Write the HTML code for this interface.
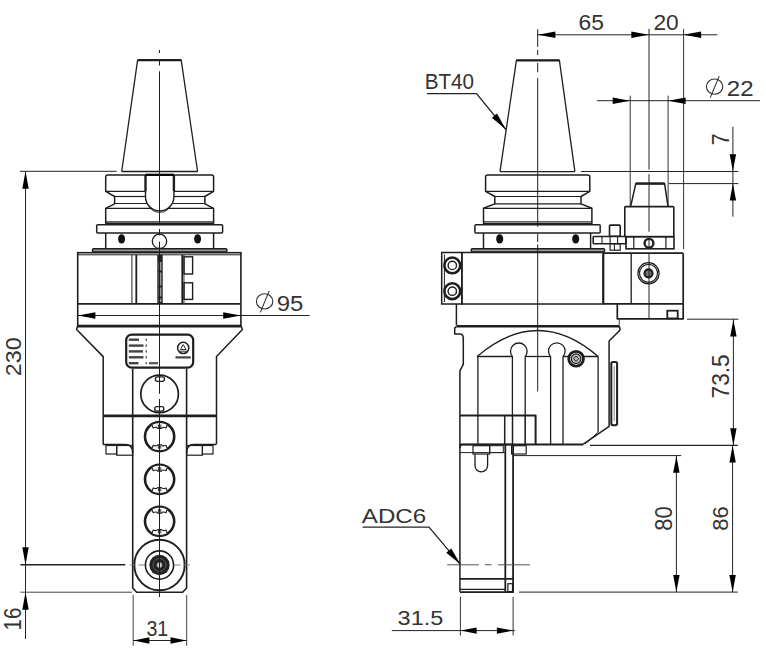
<!DOCTYPE html>
<html><head><meta charset="utf-8"><style>
html,body{margin:0;padding:0;background:#fff;}
svg{display:block;}
text{font-family:"Liberation Sans",sans-serif;}
</style></head><body>
<svg width="766" height="649" viewBox="0 0 766 649" stroke-linecap="butt">
<rect x="0" y="0" width="766" height="649" fill="#fff"/>
<path d="M121.7,171.5 L137.6,60.2 L181.2,60.2 L197.6,171.5" stroke="#1e1e1e" stroke-width="1.3" fill="none" stroke-linejoin="round" />
<line x1="137.6" y1="60.2" x2="181.2" y2="60.2" stroke="#1e1e1e" stroke-width="2.3" />
<line x1="121.7" y1="171.5" x2="197.6" y2="171.5" stroke="#1e1e1e" stroke-width="1.3" />
<path d="M105.7,177 Q105.7,175 107.7,175 L211.6,175 Q213.6,175 213.6,177 L213.6,191.3 L204.9,196.5 L204.9,203.8 L213.6,208.3 L213.6,223.3 L105.7,223.3 L105.7,208.3 L114.6,203.8 L114.6,196.5 L105.7,191.3 Z" stroke="#1e1e1e" stroke-width="1.5" fill="none" stroke-linejoin="round" />
<line x1="105.7" y1="191.3" x2="145.5" y2="191.3" stroke="#1e1e1e" stroke-width="1.3" />
<line x1="173.9" y1="191.3" x2="213.6" y2="191.3" stroke="#1e1e1e" stroke-width="1.3" />
<line x1="114.6" y1="196.5" x2="145.5" y2="196.5" stroke="#1e1e1e" stroke-width="1.2" />
<line x1="173.9" y1="196.5" x2="204.9" y2="196.5" stroke="#1e1e1e" stroke-width="1.2" />
<line x1="114.6" y1="203.5" x2="147.4" y2="203.5" stroke="#1e1e1e" stroke-width="1.2" />
<line x1="172" y1="203.5" x2="204.9" y2="203.5" stroke="#1e1e1e" stroke-width="1.2" />
<line x1="105.7" y1="208.3" x2="151.4" y2="208.3" stroke="#1e1e1e" stroke-width="1.3" />
<line x1="168" y1="208.3" x2="213.6" y2="208.3" stroke="#1e1e1e" stroke-width="1.3" />
<line x1="105.7" y1="221.8" x2="213.6" y2="221.8" stroke="#1e1e1e" stroke-width="1.0" />
<line x1="145.5" y1="175" x2="145.5" y2="191.3" stroke="#1e1e1e" stroke-width="2.4" />
<line x1="173.9" y1="175" x2="173.9" y2="191.3" stroke="#1e1e1e" stroke-width="2.4" />
<path d="M145.5,191.3 L145.5,196.8 A14.2,14.2 0 0 0 173.9,196.8 L173.9,191.3" stroke="#1e1e1e" stroke-width="1.4" fill="none" stroke-linejoin="round" />
<path d="M148.5,205.5 A12.6,12.6 0 0 0 170.9,205.5" stroke="#1e1e1e" stroke-width="0.9" fill="none" stroke-linejoin="round" />
<line x1="145.5" y1="174.8" x2="173.9" y2="174.8" stroke="#000" stroke-width="2.2" />
<rect x="96.7" y="224.7" width="125.89999999999999" height="8.300000000000011" rx="1" stroke="#1e1e1e" stroke-width="1.5" fill="none" />
<line x1="105.7" y1="233" x2="105.7" y2="248.7" stroke="#1e1e1e" stroke-width="1.5" />
<line x1="213.6" y1="233" x2="213.6" y2="248.7" stroke="#1e1e1e" stroke-width="1.5" />
<ellipse cx="121.6" cy="238.9" rx="3.5" ry="4.7" fill="#111"/>
<ellipse cx="197.6" cy="238.9" rx="3.5" ry="4.7" fill="#111"/>
<circle cx="159.5" cy="241.3" r="7.2" stroke="#1e1e1e" stroke-width="1.3" fill="#fff"/>
<rect x="92.5" y="248.7" width="134.3" height="3.3000000000000114" rx="1" stroke="#1e1e1e" stroke-width="1.5" fill="#999" />
<rect x="77.7" y="252.7" width="163.2" height="72.80000000000001" rx="0" stroke="#1e1e1e" stroke-width="1.6" fill="none" />
<line x1="77.7" y1="254.8" x2="240.9" y2="254.8" stroke="#1e1e1e" stroke-width="1.0" />
<line x1="77.7" y1="303.9" x2="240.9" y2="303.9" stroke="#1e1e1e" stroke-width="1.9" />
<line x1="131.9" y1="254.8" x2="131.9" y2="303.9" stroke="#444" stroke-width="1.2" />
<line x1="136.3" y1="254.8" x2="136.3" y2="303.9" stroke="#1e1e1e" stroke-width="1.8" />
<line x1="182.3" y1="254.8" x2="182.3" y2="303.9" stroke="#1e1e1e" stroke-width="1.8" />
<line x1="184.0" y1="254.8" x2="184.0" y2="303.9" stroke="#444" stroke-width="1.0" />
<rect x="157.3" y="254.8" width="5.399999999999977" height="49.099999999999966" rx="0" stroke="#1e1e1e" stroke-width="0" fill="#222" />
<rect x="158.6" y="262" width="2.8000000000000114" height="8.5" rx="0" stroke="#1e1e1e" stroke-width="0" fill="#999" />
<rect x="158.6" y="272.5" width="2.8000000000000114" height="13.0" rx="0" stroke="#1e1e1e" stroke-width="0" fill="#999" />
<rect x="158.6" y="287.5" width="2.8000000000000114" height="9.0" rx="0" stroke="#1e1e1e" stroke-width="0" fill="#999" />
<rect x="158.6" y="298.5" width="2.8000000000000114" height="3.5" rx="0" stroke="#1e1e1e" stroke-width="0" fill="#999" />
<rect x="184.0" y="256.8" width="8.599999999999994" height="17.19999999999999" rx="0" stroke="#1e1e1e" stroke-width="1.4" fill="none" />
<rect x="184.0" y="282.8" width="8.599999999999994" height="16.599999999999966" rx="0" stroke="#1e1e1e" stroke-width="1.4" fill="none" />
<line x1="77.7" y1="315.5" x2="309.6" y2="315.5" stroke="#222" stroke-width="1.0" />
<polygon points="77.9,315.5 95.4,312.3 95.4,318.7" fill="#000"/>
<polygon points="240.7,315.5 223.2,312.3 223.2,318.7" fill="#000"/>
<line x1="77.7" y1="326.3" x2="240.9" y2="326.3" stroke="#1e1e1e" stroke-width="2.6" />
<path d="M77.7,325.5 L76.6,329.5 L103.2,356.6 L103.2,444.5" stroke="#1e1e1e" stroke-width="1.5" fill="none" stroke-linejoin="round" />
<path d="M240.9,325.5 L242.4,329.5 L216.5,356.6 L216.5,444.5" stroke="#1e1e1e" stroke-width="1.5" fill="none" stroke-linejoin="round" />
<line x1="103" y1="415.9" x2="216" y2="415.9" stroke="#1e1e1e" stroke-width="2.6" />
<path d="M103,444.5 L125.5,444.5 Q132.7,444.5 132.7,453" stroke="#1e1e1e" stroke-width="1.5" fill="none" stroke-linejoin="round" />
<path d="M216,444.5 L193.8,444.5 Q186.6,444.5 186.6,453" stroke="#1e1e1e" stroke-width="1.5" fill="none" stroke-linejoin="round" />
<rect x="106" y="445.5" width="10.700000000000003" height="8.5" rx="0" stroke="#1e1e1e" stroke-width="1.2" fill="none" />
<rect x="116.7" y="445.5" width="15.999999999999986" height="9.699999999999989" rx="0" stroke="#1e1e1e" stroke-width="1.2" fill="none" />
<rect x="202.4" y="445.5" width="10.599999999999994" height="8.5" rx="0" stroke="#1e1e1e" stroke-width="1.2" fill="none" />
<rect x="186.6" y="445.5" width="15.800000000000011" height="9.699999999999989" rx="0" stroke="#1e1e1e" stroke-width="1.2" fill="none" />
<path d="M132.7,369 L132.7,588 L136.7,592.2 L182.6,592.2 L186.6,588 L186.6,369" stroke="#1e1e1e" stroke-width="1.6" fill="none" stroke-linejoin="round" />
<rect x="126.2" y="334.6" width="66.99999999999999" height="33.0" rx="5.5" stroke="#1e1e1e" stroke-width="2.2" fill="none" />
<rect x="128.8" y="338.5" width="10.199999999999989" height="2.3999999999999773" rx="0" stroke="#1e1e1e" stroke-width="0" fill="#444" />
<rect x="145.6" y="338.59999999999997" width="1.200000000000017" height="2.2000000000000455" rx="0" stroke="#1e1e1e" stroke-width="0" fill="#333" />
<rect x="128.8" y="344.40000000000003" width="14.699999999999989" height="2.3999999999999773" rx="0" stroke="#1e1e1e" stroke-width="0" fill="#444" />
<rect x="145.6" y="344.5" width="1.200000000000017" height="2.2000000000000455" rx="0" stroke="#1e1e1e" stroke-width="0" fill="#333" />
<rect x="128.8" y="350.2" width="14.199999999999989" height="2.3999999999999773" rx="0" stroke="#1e1e1e" stroke-width="0" fill="#444" />
<rect x="145.6" y="350.29999999999995" width="1.200000000000017" height="2.2000000000000455" rx="0" stroke="#1e1e1e" stroke-width="0" fill="#333" />
<rect x="128.8" y="356.1" width="14.699999999999989" height="2.3999999999999773" rx="0" stroke="#1e1e1e" stroke-width="0" fill="#444" />
<rect x="145.6" y="356.2" width="1.200000000000017" height="2.2000000000000455" rx="0" stroke="#1e1e1e" stroke-width="0" fill="#333" />
<rect x="128.8" y="362.0" width="9.699999999999989" height="2.3999999999999773" rx="0" stroke="#1e1e1e" stroke-width="0" fill="#444" />
<rect x="145.6" y="362.09999999999997" width="1.200000000000017" height="2.2000000000000455" rx="0" stroke="#1e1e1e" stroke-width="0" fill="#333" />
<rect x="149" y="362.1" width="9" height="2.1999999999999886" rx="0" stroke="#1e1e1e" stroke-width="0" fill="#555" />
<circle cx="183.2" cy="347.9" r="5.6" stroke="#1e1e1e" stroke-width="1.5" fill="none"/>
<path d="M180.4,349.5 L183.2,344.5 L186,349.5 Z" stroke="#1e1e1e" stroke-width="0.9" fill="none" stroke-linejoin="round" />
<line x1="179.5" y1="351.2" x2="187" y2="351.2" stroke="#1e1e1e" stroke-width="0.9" />
<rect x="175.5" y="356.3" width="15.300000000000011" height="2.1999999999999886" rx="0" stroke="#1e1e1e" stroke-width="0" fill="#444" />
<circle cx="159.6" cy="393.9" r="18.8" stroke="#1e1e1e" stroke-width="1.7" fill="none"/>
<rect x="155.4" y="376.9" width="9.0" height="4.400000000000034" rx="2" stroke="#1e1e1e" stroke-width="1.3" fill="#fff" />
<rect x="154.8" y="406.7" width="9.0" height="4.400000000000034" rx="2" stroke="#1e1e1e" stroke-width="1.3" fill="#fff" />
<circle cx="159.6" cy="436.6" r="14.6" stroke="#1e1e1e" stroke-width="2.6" fill="none"/>
<path d="M151.8,424.2 Q159.6,420.5 167.4,424.2 L166,428.0 Q163,426.4 161.5,428.4 L157.7,428.4 Q156.2,426.4 153.2,428.0 Z" stroke="#1e1e1e" stroke-width="1.1" fill="#fff" stroke-linejoin="round" />
<line x1="158.4" y1="424.5" x2="158.4" y2="428.0" stroke="#1e1e1e" stroke-width="0.9" />
<line x1="160.8" y1="424.5" x2="160.8" y2="428.0" stroke="#1e1e1e" stroke-width="0.9" />
<path d="M151.8,449.00000000000006 Q159.6,452.70000000000005 167.4,449.00000000000006 L166,445.20000000000005 Q163,446.80000000000007 161.5,444.80000000000007 L157.7,444.80000000000007 Q156.2,446.80000000000007 153.2,445.20000000000005 Z" stroke="#1e1e1e" stroke-width="1.1" fill="#fff" stroke-linejoin="round" />
<line x1="158.4" y1="448.70000000000005" x2="158.4" y2="445.20000000000005" stroke="#1e1e1e" stroke-width="0.9" />
<line x1="160.8" y1="448.70000000000005" x2="160.8" y2="445.20000000000005" stroke="#1e1e1e" stroke-width="0.9" />
<circle cx="159.6" cy="479.3" r="14.6" stroke="#1e1e1e" stroke-width="2.6" fill="none"/>
<path d="M151.8,466.9 Q159.6,463.2 167.4,466.9 L166,470.7 Q163,469.09999999999997 161.5,471.09999999999997 L157.7,471.09999999999997 Q156.2,469.09999999999997 153.2,470.7 Z" stroke="#1e1e1e" stroke-width="1.1" fill="#fff" stroke-linejoin="round" />
<line x1="158.4" y1="467.2" x2="158.4" y2="470.7" stroke="#1e1e1e" stroke-width="0.9" />
<line x1="160.8" y1="467.2" x2="160.8" y2="470.7" stroke="#1e1e1e" stroke-width="0.9" />
<path d="M151.8,491.70000000000005 Q159.6,495.40000000000003 167.4,491.70000000000005 L166,487.90000000000003 Q163,489.50000000000006 161.5,487.50000000000006 L157.7,487.50000000000006 Q156.2,489.50000000000006 153.2,487.90000000000003 Z" stroke="#1e1e1e" stroke-width="1.1" fill="#fff" stroke-linejoin="round" />
<line x1="158.4" y1="491.40000000000003" x2="158.4" y2="487.90000000000003" stroke="#1e1e1e" stroke-width="0.9" />
<line x1="160.8" y1="491.40000000000003" x2="160.8" y2="487.90000000000003" stroke="#1e1e1e" stroke-width="0.9" />
<circle cx="159.6" cy="521.3" r="14.6" stroke="#1e1e1e" stroke-width="2.6" fill="none"/>
<path d="M151.8,508.8999999999999 Q159.6,505.19999999999993 167.4,508.8999999999999 L166,512.6999999999999 Q163,511.0999999999999 161.5,513.0999999999999 L157.7,513.0999999999999 Q156.2,511.0999999999999 153.2,512.6999999999999 Z" stroke="#1e1e1e" stroke-width="1.1" fill="#fff" stroke-linejoin="round" />
<line x1="158.4" y1="509.19999999999993" x2="158.4" y2="512.6999999999999" stroke="#1e1e1e" stroke-width="0.9" />
<line x1="160.8" y1="509.19999999999993" x2="160.8" y2="512.6999999999999" stroke="#1e1e1e" stroke-width="0.9" />
<path d="M151.8,533.6999999999999 Q159.6,537.4 167.4,533.6999999999999 L166,529.9 Q163,531.5 161.5,529.5 L157.7,529.5 Q156.2,531.5 153.2,529.9 Z" stroke="#1e1e1e" stroke-width="1.1" fill="#fff" stroke-linejoin="round" />
<line x1="158.4" y1="533.4" x2="158.4" y2="529.9" stroke="#1e1e1e" stroke-width="0.9" />
<line x1="160.8" y1="533.4" x2="160.8" y2="529.9" stroke="#1e1e1e" stroke-width="0.9" />
<circle cx="159.5" cy="565" r="25.2" stroke="#1e1e1e" stroke-width="1.9" fill="none"/>
<circle cx="159.5" cy="565" r="14.1" stroke="#1e1e1e" stroke-width="1.6" fill="none"/>
<circle cx="159.5" cy="565" r="10.2" stroke="#1e1e1e" stroke-width="0" fill="#222"/>
<circle cx="159.5" cy="565" r="6.5" stroke="#666" stroke-width="0.8" fill="none"/>
<circle cx="159.5" cy="565" r="2.6" stroke="#888" stroke-width="0.9" fill="#ccc"/>
<line x1="130" y1="565" x2="136" y2="565" stroke="#777" stroke-width="0.9" />
<line x1="138.5" y1="565" x2="145" y2="565" stroke="#777" stroke-width="0.9" />
<line x1="174" y1="565" x2="180.5" y2="565" stroke="#777" stroke-width="0.9" />
<line x1="183" y1="565" x2="190" y2="565" stroke="#777" stroke-width="0.9" />
<line x1="159.5" y1="50" x2="159.5" y2="53" stroke="#1e1e1e" stroke-width="1.0" />
<line x1="159.5" y1="60" x2="159.5" y2="65.5" stroke="#1e1e1e" stroke-width="1.0" />
<line x1="159.5" y1="71.3" x2="159.5" y2="224.2" stroke="#1e1e1e" stroke-width="1.0" />
<line x1="159.5" y1="229" x2="159.5" y2="235.4" stroke="#1e1e1e" stroke-width="1.0" />
<line x1="159.5" y1="241.6" x2="159.5" y2="393.8" stroke="#1e1e1e" stroke-width="1.0" />
<line x1="159.5" y1="398.9" x2="159.5" y2="597" stroke="#1e1e1e" stroke-width="1.0" />
<line x1="25.5" y1="171.3" x2="25.5" y2="639" stroke="#222" stroke-width="1.0" />
<polygon points="25.5,171.3 22.3,188.8 28.7,188.8" fill="#000"/>
<polygon points="25.5,564.8 22.3,547.3 28.7,547.3" fill="#000"/>
<polygon points="25.5,592.2 22.3,609.7 28.7,609.7" fill="#000"/>
<line x1="20" y1="171.3" x2="116.7" y2="171.3" stroke="#222" stroke-width="1.0" />
<line x1="20.4" y1="564.8" x2="125.3" y2="564.8" stroke="#222" stroke-width="1.6" />
<line x1="20.4" y1="592.2" x2="131.9" y2="592.2" stroke="#444" stroke-width="1.0" />
<text x="0" y="0" font-size="100" fill="#333" transform="translate(21.47,376.16) rotate(-90) scale(0.2323,0.2296)">230</text>
<text x="0" y="0" font-size="100" fill="#333" transform="translate(21.47,630.43) rotate(-90) scale(0.2040,0.2310)">16</text>
<line x1="133.2" y1="595" x2="133.2" y2="645.7" stroke="#444" stroke-width="1.0" />
<line x1="186.7" y1="595" x2="186.7" y2="645.7" stroke="#444" stroke-width="1.0" />
<line x1="133.2" y1="640.5" x2="186.7" y2="640.5" stroke="#222" stroke-width="1.0" />
<polygon points="133.4,640.5 149.4,637.3 149.4,643.7" fill="#000"/>
<polygon points="186.5,640.5 170.5,637.3 170.5,643.7" fill="#000"/>
<text x="0" y="0" font-size="100" fill="#333" transform="translate(146.42,636.08) scale(0.1961,0.2169)">31</text>
<ellipse cx="264.6" cy="301.4" rx="8.2" ry="7.6" stroke="#333" stroke-width="1.1" fill="none"/>
<line x1="260.3" y1="312.4" x2="269.20000000000005" y2="290.9" stroke="#333" stroke-width="1.1" />
<text x="0" y="0" font-size="100" fill="#333" transform="translate(276.80,311.18) scale(0.2392,0.2239)">95</text>
<path d="M500,171.7 L516.4,60.4 L559.4,60.4 L574.9,171.7" stroke="#1e1e1e" stroke-width="1.3" fill="none" stroke-linejoin="round" />
<line x1="516.4" y1="60.4" x2="559.4" y2="60.4" stroke="#1e1e1e" stroke-width="2.3" />
<line x1="500" y1="171.7" x2="574.9" y2="171.7" stroke="#1e1e1e" stroke-width="1.3" />
<path d="M485.6,177 Q485.6,175.1 487.6,175.1 L587.8,175.1 Q589.8,175.1 589.8,177 L589.8,191.3 L581,196.5 L581,203.9 L591.9,208.3 L591.9,223.4 L483.5,223.4 L483.5,208.3 L494.8,203.9 L494.8,196.5 L485.6,191.3 Z" stroke="#1e1e1e" stroke-width="1.5" fill="none" stroke-linejoin="round" />
<line x1="485.6" y1="191.3" x2="589.8" y2="191.3" stroke="#1e1e1e" stroke-width="1.3" />
<line x1="494.8" y1="196.5" x2="581" y2="196.5" stroke="#1e1e1e" stroke-width="1.2" />
<line x1="494.8" y1="203.9" x2="581" y2="203.9" stroke="#1e1e1e" stroke-width="1.2" />
<line x1="483.5" y1="208.3" x2="591.9" y2="208.3" stroke="#1e1e1e" stroke-width="1.3" />
<line x1="483.5" y1="221.8" x2="591.9" y2="221.8" stroke="#1e1e1e" stroke-width="1.0" />
<rect x="474.9" y="224.8" width="125.30000000000007" height="8.299999999999983" rx="1" stroke="#1e1e1e" stroke-width="1.5" fill="none" />
<line x1="483.5" y1="233.1" x2="483.5" y2="248.8" stroke="#1e1e1e" stroke-width="1.5" />
<line x1="590.6" y1="233.1" x2="590.6" y2="248.8" stroke="#1e1e1e" stroke-width="1.5" />
<ellipse cx="499.7" cy="238.9" rx="3.5" ry="4.7" fill="#111"/>
<ellipse cx="575.7" cy="238.9" rx="3.5" ry="4.7" fill="#111"/>
<rect x="471.3" y="248.8" width="133.3" height="3.0999999999999943" rx="1" stroke="#1e1e1e" stroke-width="1.5" fill="#999" />
<rect x="441.7" y="252.5" width="20.19999999999999" height="51.5" rx="0" stroke="#1e1e1e" stroke-width="1.5" fill="none" />
<line x1="444.4" y1="254.5" x2="444.4" y2="302" stroke="#1e1e1e" stroke-width="1.0" />
<rect x="461.9" y="252.5" width="141.70000000000005" height="51.5" rx="0" stroke="#1e1e1e" stroke-width="1.5" fill="none" />
<circle cx="452.3" cy="265.4" r="7.9" stroke="#1e1e1e" stroke-width="2.6" fill="none"/>
<circle cx="452.3" cy="265.4" r="4.2" stroke="#1e1e1e" stroke-width="1.4" fill="none"/>
<circle cx="452.3" cy="291.2" r="7.9" stroke="#1e1e1e" stroke-width="2.6" fill="none"/>
<circle cx="452.3" cy="291.2" r="4.2" stroke="#1e1e1e" stroke-width="1.4" fill="none"/>
<rect x="603" y="253.2" width="80.20000000000005" height="50.60000000000002" rx="1" stroke="#1e1e1e" stroke-width="1.7" fill="none" />
<line x1="631.2" y1="253.2" x2="631.2" y2="303.8" stroke="#1e1e1e" stroke-width="1.3" />
<circle cx="648.5" cy="273.3" r="10.6" stroke="#1e1e1e" stroke-width="1.2" fill="none"/>
<circle cx="648.5" cy="273.3" r="9.0" stroke="#1e1e1e" stroke-width="1.2" fill="#fff"/>
<circle cx="648.5" cy="273.3" r="4.0" stroke="#1e1e1e" stroke-width="2.2" fill="#777"/>
<path d="M617.3,303.8 L617.3,318.8 L683.2,318.8 L683.2,303.8" stroke="#1e1e1e" stroke-width="1.7" fill="none" stroke-linejoin="round" />
<rect x="667.3" y="310.7" width="10.400000000000091" height="7.699999999999989" rx="0" stroke="#1e1e1e" stroke-width="1.8" fill="none" />
<line x1="456.4" y1="304" x2="456.4" y2="325.1" stroke="#1e1e1e" stroke-width="1.5" />
<line x1="456.4" y1="326.2" x2="619.3" y2="326.2" stroke="#1e1e1e" stroke-width="2.6" />
<line x1="619.3" y1="318.8" x2="619.3" y2="325.5" stroke="#555" stroke-width="1.1" />
<path d="M456.4,326.5 L454.7,328 L454.7,334 L459.6,334 Q463.3,334 463.3,338.2 L463.3,364.4 L459.9,370.9 L459.9,591.8" stroke="#1e1e1e" stroke-width="1.5" fill="none" stroke-linejoin="round" />
<path d="M619.3,326 L620.1,330 L609.1,341 L609.1,426.3 L583,444.3" stroke="#1e1e1e" stroke-width="1.5" fill="none" stroke-linejoin="round" />
<path d="M598.1,432.3 L585,444" stroke="#1e1e1e" stroke-width="1.0" fill="none" stroke-linejoin="round" />
<path d="M477.1,356.5 Q537.9,304.5 598.2,356.5" stroke="#1e1e1e" stroke-width="1.3" fill="none" stroke-linejoin="round" />
<line x1="477.1" y1="356.5" x2="512.4" y2="356.5" stroke="#1e1e1e" stroke-width="1.3" />
<line x1="525.2" y1="356.5" x2="550.6" y2="356.5" stroke="#1e1e1e" stroke-width="1.3" />
<line x1="563" y1="356.5" x2="598.2" y2="356.5" stroke="#1e1e1e" stroke-width="1.3" />
<line x1="477.9" y1="356.5" x2="477.9" y2="444.5" stroke="#1e1e1e" stroke-width="1.3" />
<line x1="598.1" y1="356.5" x2="598.1" y2="432.3" stroke="#1e1e1e" stroke-width="1.3" />
<path d="M512.4,444.5 L512.4,356.6 A8.3,8.3 0 1 1 525.2,356.6 L525.2,444.5" stroke="#1e1e1e" stroke-width="1.3" fill="none" stroke-linejoin="round" />
<path d="M550.6,444.5 L550.6,356.6 A8.3,8.3 0 1 1 563,356.6 L563,444.5" stroke="#1e1e1e" stroke-width="1.3" fill="none" stroke-linejoin="round" />
<circle cx="576.1" cy="358.7" r="7.4" stroke="#1e1e1e" stroke-width="2.8" fill="#fff"/>
<circle cx="576.1" cy="358.7" r="4.8" stroke="#1e1e1e" stroke-width="1.2" fill="#bbb"/>
<path d="M573.5,358.7 L576.1,356 L578.7,358.7 L576.1,361.4 Z" stroke="#1e1e1e" stroke-width="1.0" fill="none" stroke-linejoin="round" />
<rect x="611.3" y="362" width="5.800000000000068" height="63.30000000000001" rx="1.8" stroke="#1e1e1e" stroke-width="2.0" fill="none" />
<line x1="614.2" y1="366" x2="614.2" y2="421" stroke="#666" stroke-width="0.8" />
<path d="M460,415.4 L535.6,415.4 L535.6,444.3" stroke="#1e1e1e" stroke-width="2.0" fill="none" stroke-linejoin="round" />
<line x1="504.7" y1="415.4" x2="504.7" y2="444.3" stroke="#1e1e1e" stroke-width="1.5" />
<line x1="512.7" y1="415.4" x2="512.7" y2="444.3" stroke="#1e1e1e" stroke-width="1.0" />
<line x1="525.2" y1="415.4" x2="525.2" y2="444.3" stroke="#1e1e1e" stroke-width="1.0" />
<line x1="459.9" y1="444.5" x2="583" y2="444.5" stroke="#1e1e1e" stroke-width="2.0" />
<path d="M459.9,448 Q459.9,444.6 463,444.6 L513.1,444.6" stroke="#1e1e1e" stroke-width="1.5" fill="none" stroke-linejoin="round" />
<path d="M513.1,444.6 L513.1,592.2 L459.9,592.2" stroke="#1e1e1e" stroke-width="1.8" fill="none" stroke-linejoin="round" />
<line x1="505.3" y1="444.6" x2="505.3" y2="592.2" stroke="#1e1e1e" stroke-width="1.8" />
<line x1="459.9" y1="452.6" x2="504.7" y2="452.6" stroke="#1e1e1e" stroke-width="1.0" />
<rect x="473" y="445.7" width="16.69999999999999" height="8.300000000000011" rx="0" stroke="#1e1e1e" stroke-width="1.2" fill="none" />
<rect x="489.7" y="445.7" width="13.600000000000023" height="6.900000000000034" rx="0" stroke="#1e1e1e" stroke-width="1.0" fill="none" />
<rect x="511.6" y="445.7" width="14.600000000000023" height="8.300000000000011" rx="0" stroke="#1e1e1e" stroke-width="1.2" fill="none" />
<path d="M475,454 L475,465.5 A6.3,6.3 0 0 0 487.6,465.5 L487.6,454" stroke="#1e1e1e" stroke-width="1.3" fill="none" stroke-linejoin="round" />
<line x1="459.9" y1="578.9" x2="513.1" y2="578.9" stroke="#1e1e1e" stroke-width="1.6" />
<line x1="459.9" y1="589.3" x2="505.3" y2="589.3" stroke="#1e1e1e" stroke-width="1.2" />
<rect x="507.9" y="583.7" width="4.600000000000023" height="7.899999999999977" rx="0" stroke="#1e1e1e" stroke-width="1.2" fill="none" />
<line x1="447.2" y1="564.8" x2="479" y2="564.8" stroke="#555" stroke-width="1.0" />
<line x1="485" y1="564.8" x2="491.6" y2="564.8" stroke="#555" stroke-width="1.0" />
<line x1="498" y1="564.8" x2="530" y2="564.8" stroke="#555" stroke-width="1.0" />
<path d="M630.6,206.6 L635.8,183.6 L664.6,183.6 L668,206.6" stroke="#1e1e1e" stroke-width="1.5" fill="none" stroke-linejoin="round" />
<line x1="635.8" y1="183.6" x2="664.6" y2="183.6" stroke="#1e1e1e" stroke-width="2.4" />
<rect x="624.8" y="206.6" width="49.0" height="30.099999999999994" rx="1" stroke="#1e1e1e" stroke-width="1.6" fill="none" />
<rect x="626" y="236.6" width="48" height="12.200000000000017" rx="0" stroke="#1e1e1e" stroke-width="1.6" fill="none" />
<line x1="633.8" y1="236.6" x2="633.8" y2="248.8" stroke="#1e1e1e" stroke-width="1.2" />
<line x1="665.9" y1="236.6" x2="665.9" y2="248.8" stroke="#1e1e1e" stroke-width="1.2" />
<circle cx="649" cy="243.3" r="4.4" stroke="#1e1e1e" stroke-width="2.4" fill="#fff"/>
<rect x="593.2" y="236.5" width="32.799999999999955" height="7.199999999999989" rx="1" stroke="#1e1e1e" stroke-width="1.6" fill="none" />
<line x1="602" y1="236.5" x2="602" y2="243.7" stroke="#1e1e1e" stroke-width="1.1" />
<line x1="610.1" y1="236.5" x2="610.1" y2="243.7" stroke="#1e1e1e" stroke-width="1.1" />
<line x1="617.6" y1="236.5" x2="617.6" y2="243.7" stroke="#1e1e1e" stroke-width="1.1" />
<rect x="610.1" y="243.7" width="10.100000000000023" height="6.5" rx="0" stroke="#1e1e1e" stroke-width="1.2" fill="none" />
<line x1="614.4" y1="243.7" x2="614.4" y2="250.2" stroke="#1e1e1e" stroke-width="1.0" />
<rect x="609.5" y="225.1" width="10.700000000000045" height="11.200000000000017" rx="1" stroke="#1e1e1e" stroke-width="1.6" fill="none" />
<line x1="537.7" y1="29.2" x2="537.7" y2="46.9" stroke="#1e1e1e" stroke-width="1.0" />
<line x1="537.7" y1="49.9" x2="537.7" y2="55" stroke="#1e1e1e" stroke-width="1.0" />
<line x1="537.7" y1="63" x2="537.7" y2="72.3" stroke="#1e1e1e" stroke-width="1.0" />
<line x1="537.7" y1="78" x2="537.7" y2="226.7" stroke="#1e1e1e" stroke-width="1.0" />
<line x1="537.7" y1="234" x2="537.7" y2="242" stroke="#1e1e1e" stroke-width="1.0" />
<line x1="537.7" y1="244.4" x2="537.7" y2="391.5" stroke="#1e1e1e" stroke-width="1.0" />
<line x1="649" y1="28.8" x2="649" y2="169.6" stroke="#222" stroke-width="1.0" />
<line x1="649" y1="174.2" x2="649" y2="231.7" stroke="#222" stroke-width="1.0" />
<line x1="649" y1="238" x2="649" y2="249" stroke="#222" stroke-width="1.0" />
<line x1="649" y1="253" x2="649" y2="318.4" stroke="#222" stroke-width="1.0" />
<line x1="537.8" y1="34.8" x2="717.4" y2="34.8" stroke="#222" stroke-width="1.0" />
<polygon points="537.9,34.8 555.4,31.6 555.4,38.0" fill="#000"/>
<polygon points="648.8,34.8 631.3,31.6 631.3,38.0" fill="#000"/>
<polygon points="683.6,34.8 701.1,31.6 701.1,38.0" fill="#000"/>
<line x1="683.6" y1="28.8" x2="683.6" y2="249" stroke="#333" stroke-width="1.0" />
<text x="0" y="0" font-size="100" fill="#333" transform="translate(578.56,29.59) scale(0.2275,0.2127)">65</text>
<text x="0" y="0" font-size="100" fill="#333" transform="translate(653.46,29.59) scale(0.2275,0.2127)">20</text>
<line x1="596.9" y1="100.7" x2="760" y2="100.7" stroke="#222" stroke-width="1.0" />
<polygon points="630.2,100.7 612.7,97.5 612.7,103.9" fill="#000"/>
<polygon points="668.1,100.7 685.6,97.5 685.6,103.9" fill="#000"/>
<line x1="630.2" y1="95.6" x2="630.2" y2="206" stroke="#333" stroke-width="1.0" />
<line x1="668.1" y1="95.6" x2="668.1" y2="206" stroke="#333" stroke-width="1.0" />
<ellipse cx="714.6" cy="86.6" rx="8.2" ry="7.6" stroke="#333" stroke-width="1.1" fill="none"/>
<line x1="710.3000000000001" y1="97.6" x2="719.2" y2="76.1" stroke="#333" stroke-width="1.1" />
<text x="0" y="0" font-size="100" fill="#333" transform="translate(726.80,95.50) scale(0.2406,0.2143)">22</text>
<line x1="732.9" y1="126.8" x2="732.9" y2="216.7" stroke="#222" stroke-width="1.0" />
<polygon points="732.9,171.3 729.7,154.3 736.1,154.3" fill="#000"/>
<polygon points="732.9,183.6 729.7,200.6 736.1,200.6" fill="#000"/>
<line x1="581" y1="171.5" x2="738.3" y2="171.5" stroke="#222" stroke-width="1.0" />
<line x1="668.6" y1="183.6" x2="738.3" y2="183.6" stroke="#222" stroke-width="1.0" />
<text x="0" y="0" font-size="100" fill="#333" transform="translate(728.94,145.18) rotate(-90) scale(0.2152,0.2368)">7</text>
<line x1="687" y1="319.2" x2="738.4" y2="319.2" stroke="#222" stroke-width="1.0" />
<line x1="733.4" y1="319.2" x2="733.4" y2="445.5" stroke="#222" stroke-width="1.0" />
<polygon points="733.4,319.4 730.2,336.4 736.6,336.4" fill="#000"/>
<polygon points="733.4,445.3 730.2,428.3 736.6,428.3" fill="#000"/>
<text x="0" y="0" font-size="100" fill="#333" transform="translate(729.06,398.44) rotate(-90) scale(0.2270,0.2394)">73.5</text>
<line x1="590" y1="445.3" x2="737.8" y2="445.3" stroke="#222" stroke-width="1.3" />
<line x1="513.9" y1="455.6" x2="681.3" y2="455.6" stroke="#222" stroke-width="1.0" />
<line x1="676.4" y1="455.6" x2="676.4" y2="592.1" stroke="#222" stroke-width="1.0" />
<polygon points="676.4,455.8 673.2,472.8 679.6,472.8" fill="#000"/>
<polygon points="676.4,591.9 673.2,574.9 679.6,574.9" fill="#000"/>
<text x="0" y="0" font-size="100" fill="#333" transform="translate(672.16,530.78) rotate(-90) scale(0.2194,0.2352)">80</text>
<line x1="732.6" y1="445.3" x2="732.6" y2="592.1" stroke="#222" stroke-width="1.0" />
<polygon points="732.6,445.5 729.4,462.5 735.8,462.5" fill="#000"/>
<polygon points="732.6,591.9 729.4,574.9 735.8,574.9" fill="#000"/>
<text x="0" y="0" font-size="100" fill="#333" transform="translate(728.08,530.78) rotate(-90) scale(0.2194,0.2225)">86</text>
<line x1="519" y1="592.1" x2="737.8" y2="592.1" stroke="#222" stroke-width="1.0" />
<text x="0" y="0" font-size="100" fill="#333" transform="translate(424.65,88.68) scale(0.2066,0.2197)">BT40</text>
<path d="M427,93.6 L476.5,93.6 L505.9,129.5" stroke="#222" stroke-width="1.3" fill="none" stroke-linejoin="round" />
<polygon points="505.9,129.5 491.9,117.7 497.0,113.5" fill="#000"/>
<text x="0" y="0" font-size="100" fill="#333" transform="translate(361.80,522.79) scale(0.2416,0.2085)">ADC6</text>
<path d="M362.7,527.1 L429,527.1 L460.4,564.3" stroke="#222" stroke-width="1.3" fill="none" stroke-linejoin="round" />
<polygon points="460.4,564.3 446.3,552.7 451.3,548.4" fill="#000"/>
<line x1="460.4" y1="596.7" x2="460.4" y2="635.5" stroke="#333" stroke-width="1.0" />
<line x1="513.1" y1="596.7" x2="513.1" y2="635.5" stroke="#333" stroke-width="1.0" />
<line x1="391.8" y1="630.6" x2="514.8" y2="630.6" stroke="#222" stroke-width="1.0" />
<polygon points="460.6,630.6 476.6,627.4 476.6,633.8" fill="#000"/>
<polygon points="512.9,630.6 496.9,627.4 496.9,633.8" fill="#000"/>
<text x="0" y="0" font-size="100" fill="#333" transform="translate(397.56,625.10) scale(0.2355,0.1972)">31.5</text>
</svg></body></html>
